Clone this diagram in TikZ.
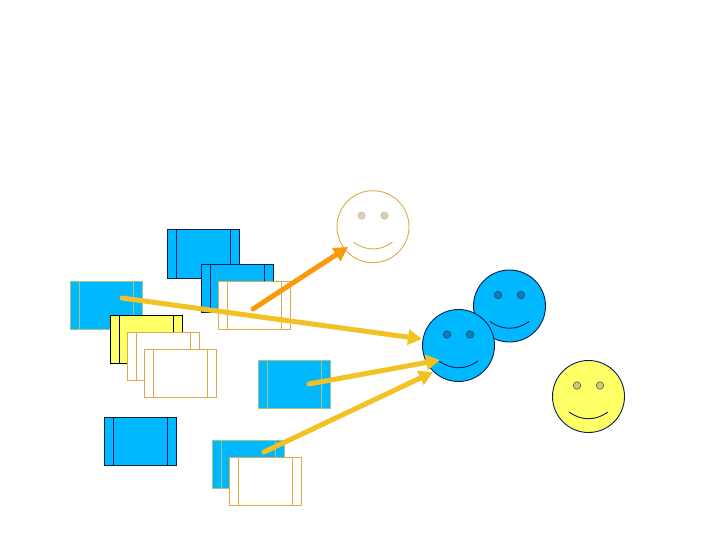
\documentclass[tikz,border=0pt]{standalone}
\usetikzlibrary{arrows.meta,calc}
\definecolor{skyb}{HTML}{00B8FF}
\definecolor{lemon}{HTML}{FFFF66}
\definecolor{navy}{HTML}{0A1E50}
\definecolor{tanl}{HTML}{E0AA48}
\definecolor{sage}{HTML}{A0C878}
\definecolor{gold}{HTML}{F2C224}
\definecolor{amber}{HTML}{FA9A0A}
\tikzset{
  cardbox/.style={draw,rectangle,inner sep=0pt,outer sep=0pt,minimum width=72pt,minimum height=48pt,line width=1pt},
  facebox/.style={draw,circle,inner sep=0pt,outer sep=0pt,minimum size=72pt,line width=0.9pt},
  eyedot/.style={draw,circle,inner sep=0pt,minimum size=7.5pt,line width=0.6pt},
  smileline/.style={line width=0.9pt},
  flow/.style={line width=5pt,line cap=round,-{Triangle[length=14pt,width=15pt]}},
}
\newcommand{\card}[5]{%
  \node[cardbox,draw=#5,fill=#4] (#1) at (#2,#3) {};
  \draw[#5,line width=1pt] ($(#1.north west)+(9,0)$) -- ($(#1.south west)+(9,0)$);
  \draw[#5,line width=1pt] ($(#1.north east)+(-9,0)$) -- ($(#1.south east)+(-9,0)$);
}
\newcommand{\face}[7]{%
  \node[facebox,draw=#5,fill=#4] (#1) at (#2,#3) {};
  \node[eyedot,draw=#7,fill=#6] (#1L) at ($(#1)+(-11.5,-11)$) {};
  \node[eyedot,draw=#7,fill=#6] (#1R) at ($(#1)+(11.5,-11)$) {};
  \draw[smileline,#5] ($(#1)+(-19.5,15.5)$) .. controls ($(#1)+(-7,24.5)$) and ($(#1)+(7,24.5)$) .. ($(#1)+(19.5,15.5)$);
}
\begin{document}
\begin{tikzpicture}[x=1pt,y=-1pt]
\useasboundingbox (0,0) rectangle (720,540);
\fill[white] (0,0) rectangle (720,540);
\card{a}{203.3}{254}{skyb}{navy}
\card{b}{237}{288}{skyb}{navy}
\card{c}{106.5}{305.2}{skyb}{sage}
\card{d}{146.5}{339.5}{lemon}{black}
\card{e}{163.5}{356}{white}{tanl}
\card{f}{180.5}{373}{white}{tanl}
\card{g}{254.5}{305}{white}{tanl}
\card{h}{294}{384}{skyb}{sage}
\card{i}{140}{441.5}{skyb}{navy}
\card{j}{248.5}{464.5}{skyb}{sage}
\card{k}{265}{481.5}{white}{tanl}
\face{p}{373}{226.7}{white}{tanl}{tanl!45!gray!45!white}{tanl!60!gray!60!white}
\face{q}{509.5}{306}{skyb}{navy}{skyb!60!navy!85!gray}{skyb!30!navy}
\face{r}{458.5}{345.5}{skyb}{navy}{skyb!60!navy!85!gray}{skyb!30!navy}
\face{s}{588.5}{396.5}{lemon}{navy}{lemon!60!gray}{lemon!30!navy}
\coordinate (s1) at (253,309); \coordinate (t1) at (348,247);
\coordinate (s2) at (122,298); \coordinate (t2) at (422,339);
\coordinate (s3) at (309,384); \coordinate (t3) at (440,360);
\coordinate (s4) at (264,452); \coordinate (t4) at (433,372);
\draw[flow,amber] (s1) -- (t1);
\draw[flow,gold] (s2) -- (t2);
\draw[flow,gold] (s3) -- (t3);
\draw[flow,gold] (s4) -- (t4);
\end{tikzpicture}
\end{document}
